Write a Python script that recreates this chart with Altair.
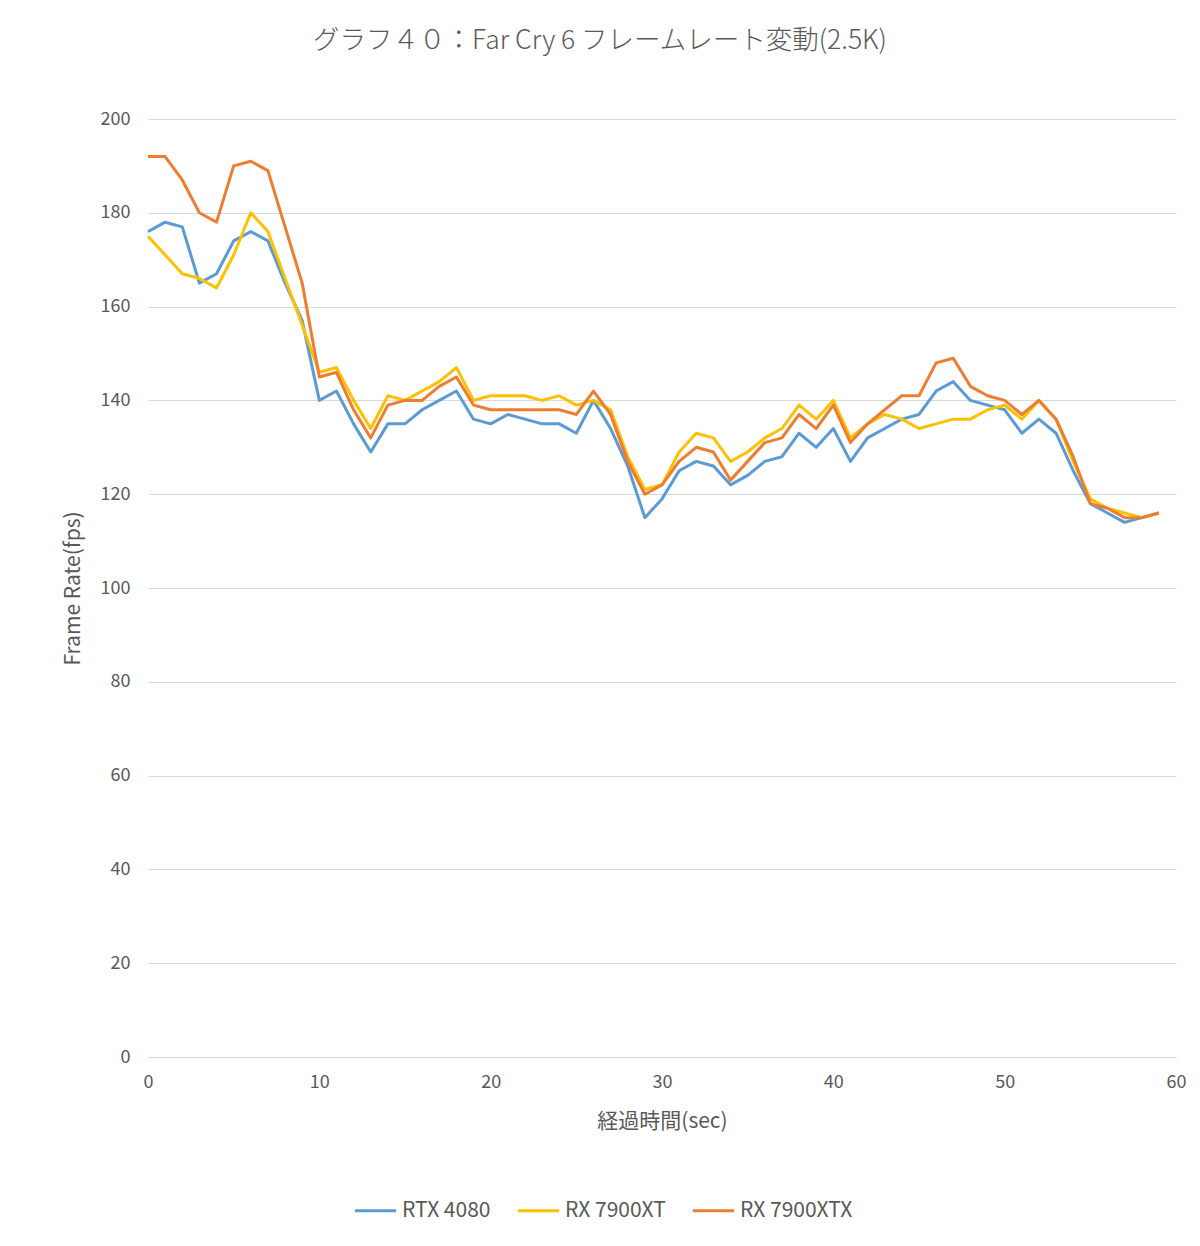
import altair as alt
import pandas as pd

seconds = list(range(60))
series_names = ["RTX 4080", "RX 7900XT", "RX 7900XTX"]
series_colors = ["#5B9BD5", "#FFC000", "#ED7D31"]

rtx4080 = [176, 178, 177, 165, 167, 174, 176, 174, 165, 157,
           140, 142, 135, 129, 135, 135, 138, 140, 142, 136,
           135, 137, 136, 135, 135, 133, 140, 134, 126, 115,
           119, 125, 127, 126, 122, 124, 127, 128, 133, 130,
           134, 127, 132, 134, 136, 137, 142, 144, 140, 139,
           138, 133, 136, 133, 125, 118, 116, 114, 115, 116]
rx7900xt = [175, 171, 167, 166, 164, 171, 180, 176, 166, 156,
            146, 147, 140, 134, 141, 140, 142, 144, 147, 140,
            141, 141, 141, 140, 141, 139, 140, 138, 128, 121,
            122, 129, 133, 132, 127, 129, 132, 134, 139, 136,
            140, 132, 135, 137, 136, 134, 135, 136, 136, 138,
            139, 136, 140, 136, 127, 119, 117, 116, 115, 116]
rx7900xtx = [192, 192, 187, 180, 178, 190, 191, 189, 177, 165,
             145, 146, 138, 132, 139, 140, 140, 143, 145, 139,
             138, 138, 138, 138, 138, 137, 142, 137, 127, 120,
             122, 127, 130, 129, 123, 127, 131, 132, 137, 134,
             139, 131, 135, 138, 141, 141, 148, 149, 143, 141,
             140, 137, 140, 136, 128, 118, 117, 115, 115, 116]

x_ticks = [0, 10, 20, 30, 40, 50, 60]
y_ticks = [0, 20, 40, 60, 80, 100, 120, 140, 160, 180, 200]

rows = []
for name, vals in zip(series_names, [rtx4080, rx7900xt, rx7900xtx]):
    for t, v in zip(seconds, vals):
        rows.append({"sec": t, "fps": v, "series": name})
df = pd.DataFrame(rows)

FONT = "Noto Sans CJK JP"
GRAY = "#595959"

chart = alt.Chart(df).mark_line(strokeWidth=3, strokeJoin="round").encode(
    x=alt.X("sec:Q",
            scale=alt.Scale(domain=[0, 60], nice=False, zero=False),
            axis=alt.Axis(values=x_ticks, title="経過時間(sec)", grid=False,
                          domainColor="#d9d9d9", domainWidth=1, ticks=False,
                          labelFlush=False,
                          labelPadding=16, labelFontSize=18, labelColor=GRAY,
                          labelFont=FONT, titleFont=FONT, titleFontSize=21,
                          titleFontWeight="normal", titleColor=GRAY,
                          titleX=514, titleY=64, titleBaseline="middle",
                          titleAlign="center")),
    y=alt.Y("fps:Q",
            scale=alt.Scale(domain=[0, 200], nice=False),
            axis=alt.Axis(values=y_ticks, title="Frame Rate(fps)", grid=True,
                          gridColor="#d9d9d9", gridWidth=1, domain=False,
                          ticks=False, labelPadding=18, labelFontSize=18,
                          labelColor=GRAY, labelFont=FONT, titleFont=FONT,
                          titleFontSize=21, titleFontWeight="normal",
                          titleColor=GRAY, titleAngle=-90, titleX=-75,
                          titleY=469, titleAlign="center",
                          titleBaseline="middle")),
    color=alt.Color("series:N",
                    scale=alt.Scale(domain=series_names, range=series_colors),
                    legend=alt.Legend(title=None, orient="none",
                                      direction="horizontal",
                                      legendX=205, legendY=1069,
                                      symbolType="stroke", symbolSize=1700,
                                      symbolStrokeWidth=3, labelFontSize=21,
                                      labelColor=GRAY, labelFont=FONT,
                                      labelOffset=4, columnPadding=20)),
    detail="series:N",
).properties(
    width=1028,
    height=938,
    padding={"left": 140, "top": 111, "right": 16, "bottom": 181},
    autosize=alt.AutoSizeParams(type="none"),
    background="white",
    title=alt.TitleParams("グラフ４０：Far Cry 6 フレームレート変動(2.5K)",
                          anchor="middle", fontSize=26.5, font=FONT,
                          fontWeight=300, color=GRAY, offset=56, dx=-62),
).configure_view(stroke=None)

chart.save("out.html", embed_options={"renderer": "svg", "actions": False})
